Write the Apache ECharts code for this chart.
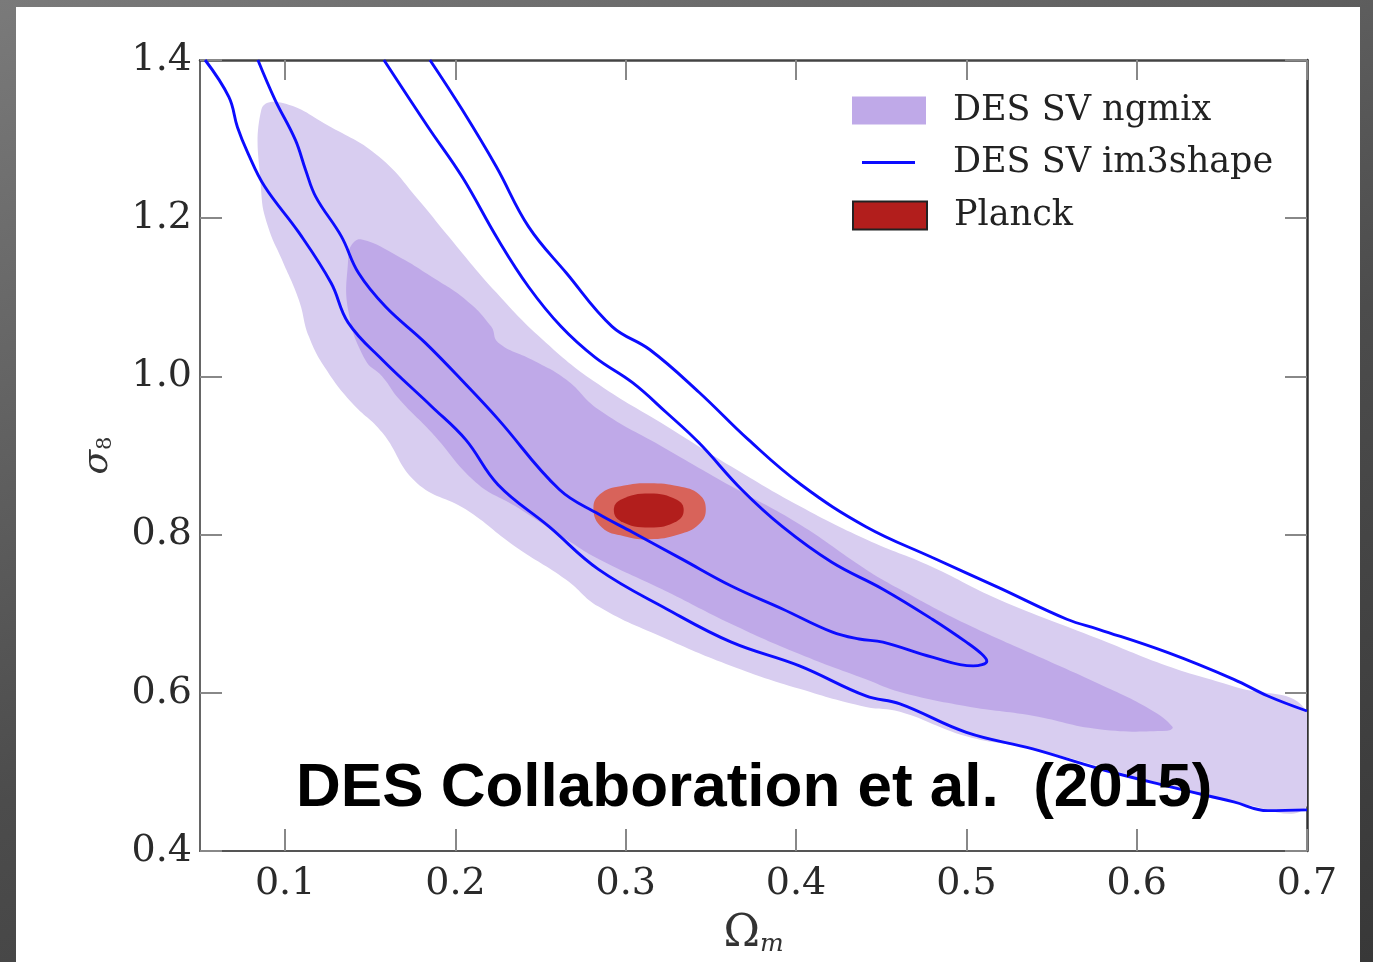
<!DOCTYPE html>
<html>
<head>
<meta charset="utf-8">
<script src="https://cdn.jsdelivr.net/npm/echarts@6/dist/echarts.min.js"></script>
<style>
  html, body { margin: 0; padding: 0; width: 1373px; height: 962px; overflow: hidden;
    background: linear-gradient(160deg, #7a7a7a 0%, #4c4c4c 55%, #383838 100%); }
  #panel { position: absolute; left: 16px; top: 7px; width: 1344px; height: 955px; background: #fff; }
  #main { position: absolute; left: 0; top: 0; width: 1373px; height: 962px; }
</style>
</head>
<body>
<div id="panel"></div>
<div id="main"></div>
<script>
var xTicks = [0.1, 0.2, 0.3, 0.4, 0.5, 0.6, 0.7];
var yTicks = [0.4, 0.6, 0.8, 1.0, 1.2, 1.4];

// DES SV ngmix, outer (95%) region, [Omega_m, sigma_8]
var ngmixOuter = [
  [0.086, 1.337], [0.098, 1.346], [0.127, 1.315], [0.155, 1.278], [0.180, 1.219],
  [0.194, 1.182], [0.224, 1.106], [0.253, 1.043], [0.284, 0.990], [0.324, 0.937],
  [0.362, 0.886], [0.402, 0.836], [0.441, 0.794], [0.480, 0.759], [0.519, 0.718],
  [0.578, 0.668], [0.618, 0.634], [0.657, 0.608], [0.700, 0.576], [0.700, 0.457],
  [0.657, 0.462], [0.618, 0.482], [0.578, 0.507], [0.539, 0.529], [0.500, 0.545],
  [0.461, 0.576], [0.441, 0.582], [0.402, 0.605], [0.362, 0.634], [0.324, 0.668],
  [0.284, 0.709], [0.265, 0.743], [0.235, 0.785], [0.206, 0.832], [0.177, 0.866],
  [0.157, 0.929], [0.139, 0.967], [0.124, 1.009], [0.114, 1.050], [0.108, 1.097],
  [0.098, 1.148], [0.090, 1.189], [0.086, 1.232]
];

// DES SV ngmix, inner (68%) region
var ngmixInner = [
  [0.137, 1.148], [0.139, 1.166], [0.145, 1.173], [0.167, 1.151], [0.186, 1.126],
  [0.206, 1.097], [0.221, 1.063], [0.225, 1.043], [0.245, 1.021], [0.265, 0.996],
  [0.284, 0.958], [0.324, 0.908], [0.362, 0.861], [0.402, 0.813], [0.441, 0.756],
  [0.461, 0.731], [0.500, 0.687], [0.539, 0.649], [0.578, 0.611], [0.608, 0.579],
  [0.621, 0.557], [0.618, 0.552], [0.578, 0.554], [0.539, 0.571], [0.500, 0.583],
  [0.461, 0.601], [0.441, 0.617], [0.402, 0.649], [0.362, 0.687], [0.324, 0.728],
  [0.284, 0.769], [0.265, 0.794], [0.235, 0.836], [0.212, 0.866], [0.186, 0.929],
  [0.167, 0.971], [0.157, 1.000], [0.147, 1.021], [0.137, 1.084]
];

// DES SV im3shape, 95% contour, lower branch
var im3Low = [
  [0.053, 1.400], [0.067, 1.353], [0.072, 1.315], [0.078, 1.283], [0.088, 1.240],
  [0.108, 1.182], [0.127, 1.118], [0.137, 1.068], [0.157, 1.021], [0.186, 0.962],
  [0.206, 0.920], [0.225, 0.863], [0.255, 0.810], [0.284, 0.756], [0.324, 0.706],
  [0.362, 0.664], [0.402, 0.634], [0.441, 0.596], [0.461, 0.586], [0.500, 0.550],
  [0.539, 0.529], [0.578, 0.504], [0.618, 0.482], [0.657, 0.462], [0.677, 0.451],
  [0.700, 0.452]
];

// DES SV im3shape, 68% contour
var im3Inner = [
  [0.084, 1.400], [0.094, 1.350], [0.106, 1.299], [0.112, 1.261], [0.118, 1.227],
  [0.133, 1.177], [0.143, 1.131], [0.159, 1.088], [0.182, 1.043], [0.206, 0.990],
  [0.225, 0.946], [0.261, 0.857], [0.284, 0.826], [0.304, 0.803], [0.333, 0.769],
  [0.362, 0.735], [0.392, 0.706], [0.421, 0.677], [0.437, 0.668], [0.451, 0.664],
  [0.480, 0.645], [0.504, 0.634], [0.512, 0.640], [0.509, 0.649], [0.500, 0.664],
  [0.480, 0.693], [0.451, 0.731], [0.421, 0.765], [0.392, 0.810], [0.368, 0.857],
  [0.343, 0.916], [0.324, 0.954], [0.304, 0.992], [0.282, 1.024], [0.262, 1.063],
  [0.243, 1.113], [0.225, 1.173], [0.204, 1.252], [0.184, 1.315], [0.158, 1.400]
];

// DES SV im3shape, 95% contour, upper branch
var im3High = [
  [0.185, 1.400], [0.204, 1.337], [0.224, 1.265], [0.243, 1.189], [0.265, 1.131],
  [0.292, 1.063], [0.314, 1.034], [0.343, 0.980], [0.372, 0.920], [0.403, 0.863],
  [0.441, 0.810], [0.480, 0.771], [0.519, 0.733], [0.559, 0.693], [0.578, 0.680],
  [0.618, 0.651], [0.657, 0.617], [0.677, 0.596], [0.700, 0.577]
];

// Planck
var planckOuter = [
  [0.281, 0.834], [0.286, 0.853], [0.299, 0.862], [0.314, 0.865], [0.331, 0.861],
  [0.343, 0.851], [0.347, 0.832], [0.343, 0.813], [0.331, 0.800], [0.314, 0.794],
  [0.299, 0.798], [0.286, 0.809]
];
var planckInner = [
  [0.293, 0.831], [0.297, 0.844], [0.314, 0.852], [0.330, 0.844], [0.334, 0.831],
  [0.330, 0.817], [0.314, 0.809], [0.297, 0.817]
];

var serif = 'DejaVu Serif';
var blue = '#0c0cff';

function fmt(v) {
  return v.toFixed(1);
}

// closed filled region drawn through the axes
function region(name, points, color, z) {
  return {
    name: name,
    type: 'custom',
    clip: true,
    z: z,
    silent: true,
    itemStyle: { color: color },
    data: points,
    renderItem: function (params, api) {
      if (params.dataIndex !== 0) return;
      var pts = points.map(function (p) { return api.coord(p); });
      return {
        type: 'polygon',
        shape: { points: pts, smooth: 0.45 },
        style: { fill: color }
      };
    }
  };
}

function contour(points) {
  return {
    name: 'DES SV im3shape',
    type: 'line',
    data: points,
    symbol: 'none',
    smooth: 0.4,
    z: 10,
    silent: true,
    lineStyle: { color: blue, width: 2.9 },
    itemStyle: { color: blue }
  };
}

var legendText = { fontFamily: serif, fontSize: 35, color: '#222' };

var myChart = echarts.init(document.getElementById('main'));

var option = {
  animation: false,
  grid: { left: 200, top: 60, right: 66, bottom: 110 },
  legend: [
    {
      left: 852, top: 93, padding: 0, itemWidth: 74, itemHeight: 28, selectedMode: false,
      textStyle: Object.assign({ padding: [0, 0, 0, 22] }, legendText),
      data: [{ name: 'DES SV ngmix', icon: 'rect', itemStyle: { color: '#bfa9e8' } }]
    },
    {
      left: 862, top: 145, padding: 0, itemWidth: 53, itemHeight: 3, selectedMode: false,
      textStyle: Object.assign({ padding: [0, 0, 0, 33] }, legendText),
      data: [{ name: 'DES SV im3shape', icon: 'rect', itemStyle: { color: blue } }]
    },
    {
      left: 852, top: 198, padding: 0, itemWidth: 74, itemHeight: 28, selectedMode: false,
      textStyle: Object.assign({ padding: [0, 0, 0, 22] }, legendText),
      data: [{ name: 'Planck', icon: 'rect', itemStyle: { color: '#b21e1c', borderColor: '#222', borderWidth: 2 } }]
    }
  ],
  xAxis: [
    {
      type: 'value', min: 0.05, max: 0.7, position: 'bottom',
      name: '{a|Ω}{b|m}', nameLocation: 'middle', nameGap: 62,
      nameTextStyle: {
        rich: {
          a: { fontFamily: serif, fontSize: 44, color: '#333' },
          b: { fontFamily: serif, fontStyle: 'italic', fontSize: 25, color: '#333', padding: [16, 0, 0, 0], verticalAlign: 'bottom' }
        }
      },
      axisLine: { show: true, onZero: false, lineStyle: { color: '#555', width: 2 } },
      axisTick: { inside: true, length: 22, customValues: xTicks, lineStyle: { color: '#888', width: 2 } },
      axisLabel: { customValues: xTicks, formatter: fmt, margin: 14, fontFamily: serif, fontSize: 38, color: '#2a2a2a' },
      splitLine: { show: false }
    },
    {
      type: 'value', min: 0.05, max: 0.7, position: 'top',
      axisLine: { show: true, onZero: false, lineStyle: { color: '#444', width: 2.5 } },
      axisTick: { inside: true, length: 20, customValues: xTicks, lineStyle: { color: '#888', width: 2 } },
      axisLabel: { show: false },
      splitLine: { show: false }
    }
  ],
  yAxis: [
    {
      type: 'value', min: 0.4, max: 1.4, interval: 0.2, position: 'left',
      name: '{a|σ}{b|8}', nameLocation: 'middle', nameRotate: 90, nameGap: 84,
      nameTextStyle: {
        rich: {
          a: { fontFamily: serif, fontStyle: 'italic', fontSize: 36, color: '#333' },
          b: { fontFamily: serif, fontSize: 21, color: '#333', padding: [14, 0, 0, 0], verticalAlign: 'bottom' }
        }
      },
      axisLine: { show: true, onZero: false, lineStyle: { color: '#666', width: 2 } },
      axisTick: { inside: true, length: 22, lineStyle: { color: '#888', width: 2 } },
      axisLabel: { formatter: fmt, margin: 8, fontFamily: serif, fontSize: 38, color: '#2a2a2a' },
      splitLine: { show: false }
    },
    {
      type: 'value', min: 0.4, max: 1.4, interval: 0.2, position: 'right',
      axisLine: { show: true, onZero: false, lineStyle: { color: '#333', width: 2.5 } },
      axisTick: { inside: true, length: 22, lineStyle: { color: '#888', width: 2 } },
      axisLabel: { show: false },
      splitLine: { show: false }
    }
  ],
  graphic: [
    {
      type: 'text', left: 296, top: 758, z: 100,
      style: { text: 'DES Collaboration et al.  (2015)', fontFamily: 'Liberation Sans', fontWeight: 'bold', fontSize: 62, fill: '#000' }
    }
  ],
  series: [
    region('DES SV ngmix', ngmixOuter, '#d8cdf0', 1),
    region('DES SV ngmix', ngmixInner, '#bfa9e8', 2),
    region('Planck', planckOuter, '#d8635a', 3),
    region('Planck', planckInner, '#b21e1c', 4),
    contour(im3Low),
    contour(im3Inner),
    contour(im3High)
  ]
};

myChart.setOption(option);
</script>
</body>
</html>
